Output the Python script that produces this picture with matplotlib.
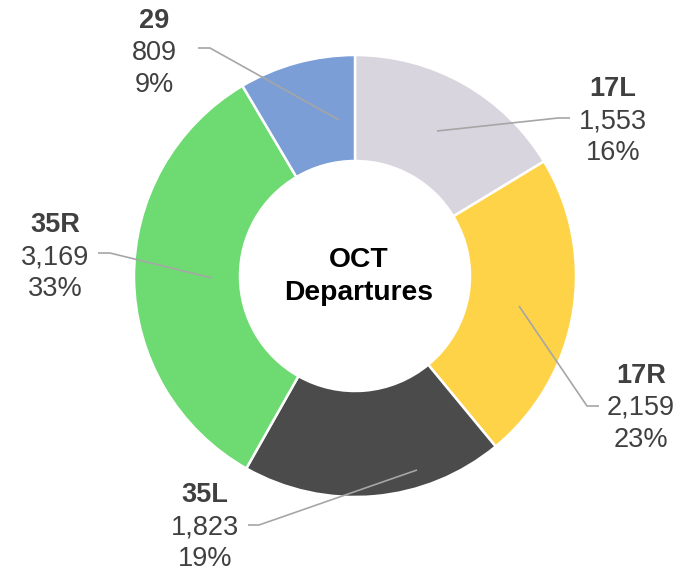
import matplotlib
matplotlib.use("Agg")
import matplotlib.pyplot as plt

# ---- data ----
runways = ["17L", "17R", "35L", "35R", "29"]
departures = [1553, 2159, 1823, 3169, 809]
colors = ["#D9D5DE", "#FFD347", "#4B4B4B", "#6EDB72", "#7B9ED6"]
center_title = ["OCT", "Departures"]

# ---- layout (pixel coordinates, y downward) ----
W, H = 692, 572
CX, CY, R_OUT, R_IN = 355, 276, 221, 115
# label text centre x, baseline of middle line, leader: start, elbow, end
label_layout = {
    "17L": dict(x=613, y=128, lead=[(570, 118), (558, 118), (437, 131)]),
    "17R": dict(x=641, y=415, lead=[(599, 406), (587, 406), (519, 306)]),
    "35L": dict(x=205, y=534, lead=[(248, 525), (259, 525), (417, 470)]),
    "35R": dict(x=55, y=264, lead=[(98, 253), (110, 253), (212, 278)]),
    "29":  dict(x=154, y=60, lead=[(198, 48), (210, 48), (339, 120)]),
}
TXT = "#404040"
LEAD = "#A6A6A6"
FONT = "Liberation Sans"
FS = 19.5
LINE = 32

fig = plt.figure(figsize=(W / 100, H / 100), dpi=100)
ax = fig.add_axes([0, 0, 1, 1])

ax.pie(departures, colors=colors, startangle=-90, counterclock=True,
       center=(CX, CY), radius=R_OUT,
       wedgeprops=dict(width=R_OUT - R_IN, edgecolor="white", linewidth=1.8))
ax.set_xlim(0, W)
ax.set_ylim(H, 0)
ax.set_aspect("equal", adjustable="box")
ax.axis("off")

total = sum(departures)
for name, val in zip(runways, departures):
    L = label_layout[name]
    pct = round(100 * val / total)
    ax.text(L["x"], L["y"] - LINE, name, ha="center", va="baseline",
            fontsize=FS, fontweight="bold", color=TXT, family=FONT)
    ax.text(L["x"], L["y"], f"{val:,}", ha="center", va="baseline",
            fontsize=FS, color=TXT, family=FONT)
    ax.text(L["x"], L["y"] + LINE, f"{pct}%", ha="center", va="baseline",
            fontsize=FS, color=TXT, family=FONT)
    xs = [p[0] for p in L["lead"]]
    ys = [p[1] for p in L["lead"]]
    ax.plot(xs, ys, color=LEAD, lw=1.2, solid_capstyle="butt", zorder=5)

ax.text(359, 267, center_title[0], ha="center", va="baseline",
        fontsize=20.3, fontweight="bold", color="black", family=FONT)
ax.text(359, 300, center_title[1], ha="center", va="baseline",
        fontsize=20.3, fontweight="bold", color="black", family=FONT)

fig.savefig("out.png", dpi=100, facecolor="white")
